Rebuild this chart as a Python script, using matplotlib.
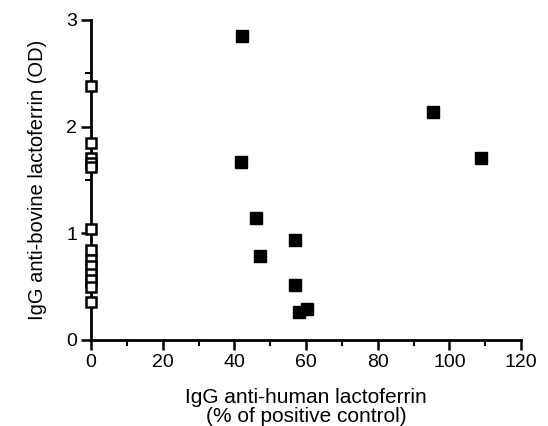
import numpy as np
import matplotlib.pyplot as plt

# open squares: negative for anti-human lactoferrin (x = 0)
neg_x = [0, 0, 0, 0, 0, 0, 0, 0, 0, 0, 0, 0, 0]
neg_y = [2.38, 1.85, 1.71, 1.66, 1.62, 1.04, 0.84, 0.75, 0.69, 0.62, 0.56, 0.50, 0.36]

# filled squares: positive
pos_x = [42.1, 95.4, 108.8, 41.9, 46.0, 56.9, 47.1, 56.9, 58.0, 60.3]
pos_y = [2.85, 2.14, 1.71, 1.67, 1.14, 0.94, 0.79, 0.52, 0.26, 0.29]

x_ticks = [0, 20, 40, 60, 80, 100, 120]
y_ticks = [0, 1, 2, 3]


def plotting():
    plt.rcParams['font.family'] = ['Liberation Sans', 'DejaVu Sans']
    fig = plt.figure(figsize=(5.48, 4.26), dpi=100)
    ax = fig.add_axes([91 / 548, 86 / 426, 430 / 548, 320 / 426])

    ax.plot(pos_x, pos_y, 's', color='black', markersize=8, clip_on=False)
    ax.plot(neg_x, neg_y, 's', markerfacecolor='white', markeredgecolor='black',
            markersize=6.5, markeredgewidth=1.8, clip_on=False, zorder=5)

    ax.set_xlim(0, 120)
    ax.set_ylim(0, 3)
    ax.set_xticks(x_ticks)
    ax.set_yticks(y_ticks)
    ax.set_xticks(np.arange(10, 120, 20), minor=True)
    ax.set_yticks([0.5, 1.5, 2.5], minor=True)

    for s in ['top', 'right']:
        ax.spines[s].set_visible(False)
    for s in ['left', 'bottom']:
        ax.spines[s].set_linewidth(2)

    ax.tick_params(axis='both', which='major', length=7, width=1.8,
                   labelsize=14, direction='out')
    ax.tick_params(axis='both', which='minor', length=4, width=1.5, direction='out')
    ax.tick_params(axis='x', pad=3)
    ax.tick_params(axis='y', pad=3)

    ax.set_xlabel('IgG anti-human lactoferrin\n(% of positive control)',
                  fontsize=15, labelpad=12, linespacing=1.0)
    ax.set_ylabel('IgG anti-bovine lactoferrin (OD)', fontsize=14.5, labelpad=14)

    fig.savefig('out.png', dpi=100)


if __name__ == '__main__':
    plotting()
